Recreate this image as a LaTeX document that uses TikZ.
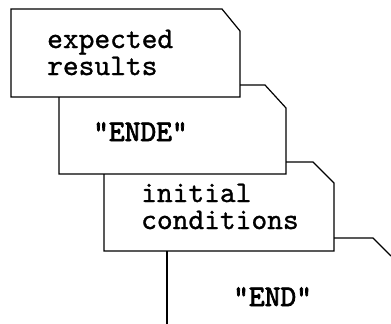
\documentclass[tikz,border=0pt]{standalone}
\usepackage{fontspec}
\usetikzlibrary{calc}
\newfontfamily\cardtt{lmmono10-regular.otf}[FakeBold=1]
\newfontfamily\quotett{lmmono10-regular.otf}[FakeBold=2.5]

\tikzset{
  card/.style={line width=1.2pt, line join=miter},
  cardtext/.style={font=\cardtt\fontsize{30}{27}\selectfont, inner sep=0pt, align=left, anchor=base west},
  quoted/.style={font=\quotett\fontsize{30}{27}\selectfont, inner sep=0pt, anchor=base west}
}

\begin{document}
\begin{tikzpicture}[x=1pt, y=-1pt]
          \useasboundingbox (0,0) rectangle (391,324);

          % top card
          \draw[card] (11,97) -- (11,9) -- (222,9) -- (240,31) -- (240,97) -- cycle;
          % second card, behind the first
          \draw[card] (240,85) -- (265,85) -- (286,108) -- (286,174) -- (59,174) -- (59,97);
          % third card
          \draw[card] (286,162) -- (313,162) -- (334,183) -- (334,251) -- (104,251) -- (104,174);
          % last card, runs off the page
          \draw[card] (334,238) -- (373,238) -- (391,256);
          \draw[card] (167,251) -- (167,324);

          % base of a two-line node sits on its last line
          \node[cardtext] (expected) at (47,75) {expected\\results};
          \node[quoted] (ende) at (93,141) {"ENDE"};
          \node[cardtext] (initial) at (141,229) {initial\\conditions};
          \node[quoted] (end) at (233,306) {"END"};

        \end{tikzpicture}
\end{document}
